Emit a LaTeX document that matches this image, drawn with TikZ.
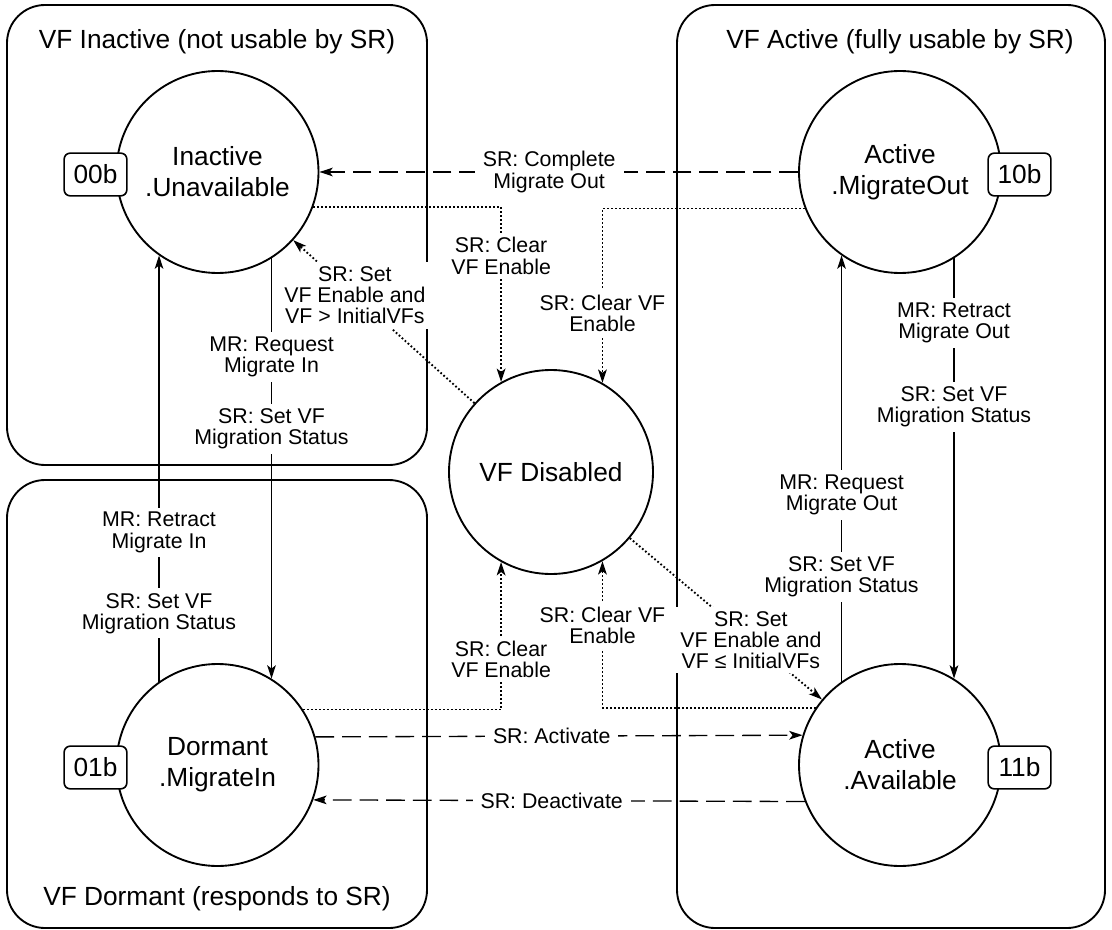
\documentclass[tikz,border=0pt]{standalone}
\usepackage{fontspec}
\setmainfont{Liberation Sans}
\usetikzlibrary{arrows.meta}

\begin{document}
\begin{tikzpicture}[x=0.75pt, y=-0.75pt,
    vfstate/.style={circle, draw, line width=1.4pt, fill=white, minimum size=151.5pt, inner sep=0pt, align=center, font=\fontsize{19.7}{23.3}\selectfont},
    vfbits/.style={draw, rounded corners=4.5pt, line width=1.2pt, fill=white, minimum width=47pt, minimum height=32pt, inner sep=0pt, font=\fontsize{19.7}{23.3}\selectfont},
    vfgroup/.style={line width=1.4pt, rounded corners=28.5pt},
    vftitle/.style={inner sep=0pt, font=\fontsize{19.7}{23.3}\selectfont},
    vflabel/.style={fill=white, inner xsep=6pt, inner ysep=3.5pt, align=center, font=\fontsize{16}{15.8}\selectfont},
    hwarrow/.style={line width=1pt, -{Stealth[length=10pt, width=6.5pt, inset=2.5pt]}},
    swarrow/.style={hwarrow, dash pattern=on 14pt off 6pt},
    enarrow/.style={hwarrow, line width=1.4pt, dash pattern=on 1.3pt off 1.7pt}]
    \useasboundingbox (0,0) rectangle (1112,930);

    % groups
    \draw[vfgroup] (7,5) rectangle (427,465);
    \draw[vfgroup] (7,480) rectangle (427,928);
    \draw[vfgroup] (677,5) rectangle (1105,928);
    \node[vftitle] (tinact) at (217,42) {VF Inactive (not usable by SR)};
    \node[vftitle] (tact) at (900,42) {VF Active (fully usable by SR)};
    \node[vftitle] (tdorm) at (217,899) {VF Dormant (responds to SR)};

    % states
    \node[vfstate] (unav) at (217.5,172) {Inactive\\.Unavailable};
    \node[vfstate] (mout) at (900,172) {Active\\.MigrateOut};
    \node[vfstate] (dorm) at (217.5,765) {Dormant\\.MigrateIn};
    \node[vfstate] (avail) at (900,765) {Active\\.Available};
    \node[vfstate, minimum size=153pt] (dis) at (551,472) {VF Disabled};
    \node[vfbits] (b00) at (95.5,174.5) {00b};
    \node[vfbits] (b10) at (1019.5,174.5) {10b};
    \node[vfbits] (b01) at (95.5,767.5) {01b};
    \node[vfbits] (b11) at (1019.5,767.5) {11b};

    % SR moves
    \draw[swarrow] (mout) -- node[vflabel, pos=0.52] (l1) {SR: Complete\\Migrate Out} (unav);
    \draw[swarrow] (dorm.16.7) -- node[vflabel, pos=0.485] (l2) {SR: Activate} (avail.163.3);
    \draw[swarrow] (avail.-159.7) -- node[vflabel, pos=0.515] (l3) {SR: Deactivate} (dorm.-20.3);

    % MR requests
    \draw[hwarrow] (unav.-58.7) -- node[vflabel, pos=0.235] (l4) {MR: Request\\Migrate In}
        node[vflabel, pos=0.406] (l5) {SR: Set VF\\Migration Status} (dorm.58.7);
    \draw[hwarrow] (dorm.125.4) -- node[vflabel, pos=0.35] (l6) {MR: Retract\\Migrate In}
        node[vflabel, pos=0.16] (l7) {SR: Set VF\\Migration Status} (unav.-125.4);
    \draw[hwarrow] (mout.-58.3) -- node[vflabel, pos=0.154] (l8) {MR: Retract\\Migrate Out}
        node[vflabel, pos=0.354] (l9) {SR: Set VF\\Migration Status} (avail.58.3);
    \draw[hwarrow] (avail.125) -- node[vflabel, pos=0.438] (l10) {MR: Request\\Migrate Out}
        node[vflabel, pos=0.246] (l11) {SR: Set VF\\Migration Status} (mout.-125);

    % VF Enable
    \draw[enarrow] (unav.-20.3) -| node[vflabel, pos=0.64] (l12) {SR: Clear\\VF Enable} (dis.119.3);
    \draw[enarrow] (mout.-159.7) -| node[vflabel, pos=0.8] (l13) {SR: Clear VF\\Enable} (dis.60.7);
    \draw[enarrow] (avail.146.3) -| node[vflabel, pos=0.78] (l15) {SR: Clear VF\\Enable} (dis.-60.7);
    \draw[enarrow] (dorm.33.7) -| node[vflabel, pos=0.67] (l14) {SR: Clear\\VF Enable} (dis.-119.3);
    \draw[enarrow] (dis) -- node[vflabel, pos=0.66] (l16) {SR: Set\\VF Enable and\\VF > InitialVFs} (unav);
    \draw[enarrow] (dis) -- node[vflabel, pos=0.63] (l17) {SR: Set\\VF Enable and\\VF ≤ InitialVFs} (avail);
\end{tikzpicture}
\end{document}
